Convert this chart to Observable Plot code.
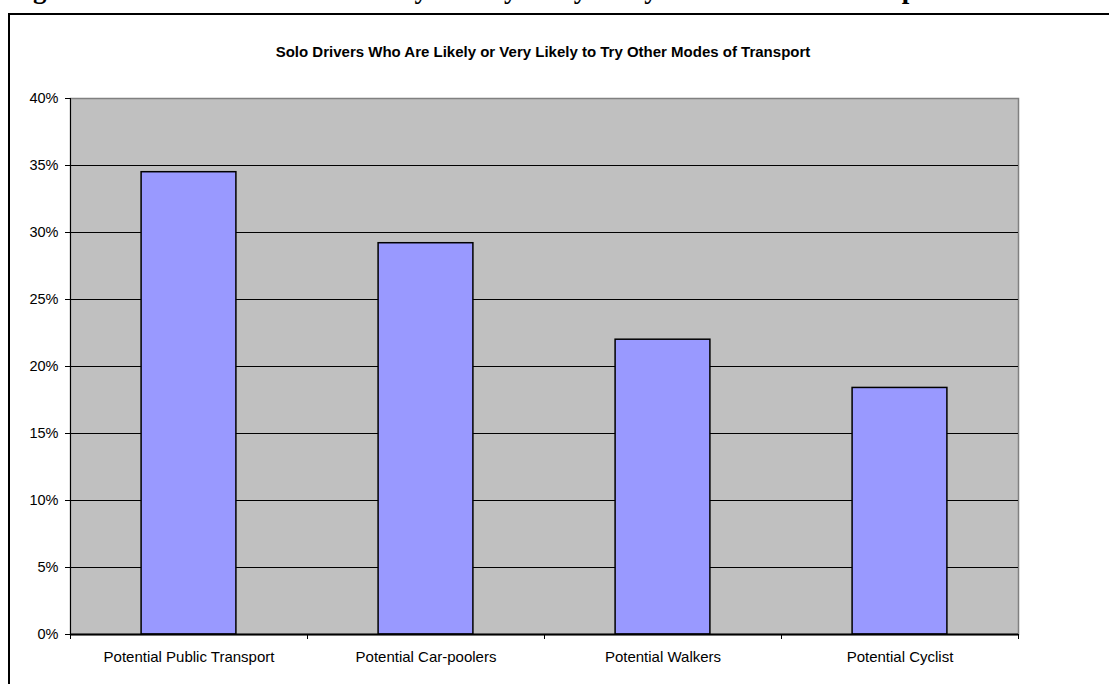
<!DOCTYPE html>
<html>
<head>
<meta charset="utf-8">
<script src="https://cdn.jsdelivr.net/npm/d3@7"></script>
<script src="https://cdn.jsdelivr.net/npm/@observablehq/plot@0.6"></script>
<style>
  html, body { margin: 0; padding: 0; background: #fff; }
  #wrap { position: relative; width: 1109px; height: 684px; overflow: hidden; background: #fff; }
  #caption { position: absolute; left: 9px; top: -24px; font: bold 27px "Liberation Serif", "Times New Roman", serif; line-height: 27px; white-space: nowrap; color: #000; }
  #frame { position: absolute; left: 8px; top: 13px; width: 1200px; height: 800px; border: 2px solid #000; box-sizing: border-box; }
  #title { position: absolute; left: 0; width: 1086px; top: 44px; text-align: center; font: bold 15px "Liberation Sans", Arial, sans-serif; line-height: 15px; color: #000; }
  #chart { position: absolute; left: 0; top: 0; }
</style>
</head>
<body>
<div id="wrap">
  <div id="caption">Figure 6: Solo drivers who are likely or very likely to try other modes of transport</div>
  <div id="frame"></div>
  <div id="title">Solo Drivers Who Are Likely or Very Likely to Try Other Modes of Transport</div>
  <div id="chart"></div>
</div>
<script>
const categories = ["Potential Public Transport", "Potential Car-poolers", "Potential Walkers", "Potential Cyclist"];
const values = [0.345, 0.292, 0.220, 0.184];
const yTicks = [0, 0.05, 0.10, 0.15, 0.20, 0.25, 0.30, 0.35, 0.40];

const data = categories.map((c, i) => ({category: c, index: i, value: values[i]}));
const boundaries = d3.range(categories.length + 1);
const centers = categories.map((c, i) => i + 0.5);

const chart = Plot.plot({
  width: 1109,
  height: 684,
  marginLeft: 70,
  marginRight: 91,
  marginTop: 98,
  marginBottom: 50,
  style: {fontFamily: "'Liberation Sans', Arial, sans-serif", fontSize: "14px", color: "#000", background: "transparent"},
  x: {domain: [0, categories.length], axis: null, label: null},
  y: {domain: [0, 0.4], axis: null, label: null},
  marks: [
    Plot.frame({fill: "#c0c0c0", stroke: "#808080", strokeWidth: 1.5}),
    Plot.ruleY(yTicks.filter(t => t > 0 && t < 0.4), {stroke: "#000", strokeWidth: 1}),
    Plot.rectY(data, {x1: d => d.index + 0.3, x2: d => d.index + 0.7, y1: 0, y2: "value", fill: "#9999ff", stroke: "#000", strokeWidth: 1.5}),
    Plot.ruleX([0], {stroke: "#000", strokeWidth: 1}),
    Plot.ruleY([0], {stroke: "#000", strokeWidth: 2}),
    Plot.axisY({ticks: yTicks, tickFormat: d3.format(".0%"), tickSize: 5, tickPadding: 7, fontSize: 14.5, stroke: "#000", label: null}),
    Plot.axisX({ticks: boundaries, tickSize: 5, tickFormat: () => "", stroke: "#000", label: null}),
    Plot.axisX({ticks: centers, tickSize: 0, tickPadding: 17, fontSize: 15, label: null, tickFormat: v => categories[Math.round(v - 0.5)]})
  ]
});
document.getElementById("chart").appendChild(chart);
</script>
</body>
</html>
